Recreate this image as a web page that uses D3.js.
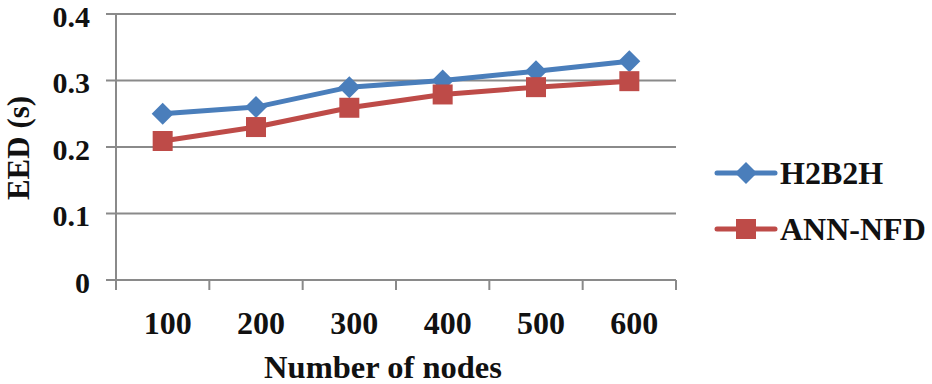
<!DOCTYPE html>
<html><head><meta charset="utf-8">
<script src="https://cdn.jsdelivr.net/npm/d3@7"></script>
<style>body{margin:0;background:#fff}svg{display:block}text{font-family:"Liberation Serif","Times New Roman",serif;font-weight:bold;fill:#111}</style>
</head><body><svg id="c" width="932" height="384"></svg>
<script>
const categories = ["100","200","300","400","500","600"];
const h2b2h = [0.25,0.26,0.29,0.30,0.314,0.329];
const annNfd = [0.209,0.23,0.259,0.279,0.29,0.299];
const yTicks = [0,0.1,0.2,0.3,0.4];
const seriesNames = ["H2B2H","ANN-NFD"];
const colors = ["#4A7EBB","#BE4B48"];

const svg = d3.select("#c");
const L=116,R=676,T=14,B=280;
const x = d3.scaleBand().domain(categories).range([L,R]);
const y = d3.scaleLinear().domain([0,0.4]).range([B,T]);
const grid="#8a8a8a";

svg.append("g").selectAll("line").data(yTicks).join("line")
 .attr("x1",L-10).attr("x2",R).attr("y1",d=>y(d)).attr("y2",d=>y(d))
 .attr("stroke",grid).attr("stroke-width",2);
svg.append("line").attr("x1",L).attr("x2",L).attr("y1",T).attr("y2",B+10).attr("stroke",grid).attr("stroke-width",2);
const edges = categories.map(c=>x(c)).concat([R]);
svg.append("g").selectAll("line").data(edges.slice(1)).join("line")
 .attr("x1",d=>d).attr("x2",d=>d).attr("y1",B).attr("y2",B+10).attr("stroke",grid).attr("stroke-width",2);

svg.append("g").selectAll("text").data(yTicks).join("text")
 .attr("x",90).attr("y",d=>y(d)+12.5).attr("text-anchor","end").attr("font-size",30)
 .text(d=>d===0?"0":d3.format(".1f")(d));
svg.append("g").selectAll("text").data(categories).join("text")
 .attr("x",d=>x(d)+x.bandwidth()/2+5).attr("y",334).attr("text-anchor","middle").attr("font-size",32)
 .text(d=>d);
svg.append("text").attr("x",383).attr("y",378).attr("text-anchor","middle").attr("font-size",32.5).text("Number of nodes");
svg.append("text").attr("transform","translate(28.5,148) rotate(-90)").attr("text-anchor","middle").attr("font-size",31).text("EED (s)");

const cx = d=>x(d)+x.bandwidth()/2;
const data=[h2b2h,annNfd];
const line = d3.line().x((d,i)=>cx(categories[i])).y(d=>y(d));
data.forEach((s,k)=>{
  svg.append("path").attr("d",line(s)).attr("fill","none").attr("stroke",colors[k]).attr("stroke-width",5).attr("stroke-linejoin","round");
});
const diamond = "M0,-11L11,0L0,11L-11,0Z";
const square = "M-10,-10H10V10H-10Z";
data.forEach((s,k)=>{
  svg.append("g").selectAll("path").data(s).join("path")
   .attr("transform",(d,i)=>`translate(${cx(categories[i])},${y(d)})`)
   .attr("d",k===0?diamond:square).attr("fill",colors[k]);
});

const leg=[173,229];
seriesNames.forEach((n,k)=>{
  const g=svg.append("g").attr("transform",`translate(0,${leg[k]})`);
  g.append("line").attr("x1",717).attr("x2",775).attr("y1",0).attr("y2",0).attr("stroke",colors[k]).attr("stroke-width",5).attr("stroke-linecap","round");
  g.append("path").attr("transform","translate(746,0)").attr("d",k===0?diamond:square).attr("fill",colors[k]);
  g.append("text").attr("x",780).attr("y",11).attr("font-size",32).text(n);
});
</script></body></html>
